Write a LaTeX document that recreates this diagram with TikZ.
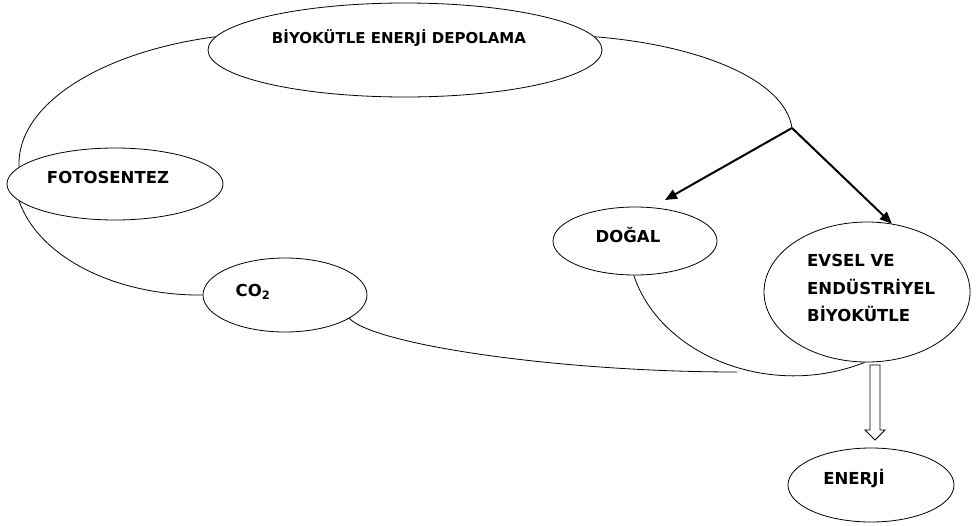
\documentclass[tikz,border=0pt]{standalone}
\usepackage{fontspec}
\setmainfont{DejaVu Sans}
\usetikzlibrary{shapes.geometric,arrows.meta}
\begin{document}
\begin{tikzpicture}[x=1pt,y=-1pt,
  oval/.style={draw=black,ellipse,inner sep=0pt,line width=0.8pt},
  lbl/.style={font=\fontsize{16.5}{20}\selectfont\bfseries,inner sep=0pt,anchor=center},
  thin/.style={draw=black,line width=0.8pt},
  thick/.style={draw=black,line width=2pt,-{Triangle[length=12pt,width=10pt]}}]
\useasboundingbox (0,0) rectangle (977,525);
\fill[white] (0,0) rectangle (977,525);
% ellipses
\node[oval,minimum width=394pt,minimum height=94pt] (bio) at (405,50) {};
\node[oval,minimum width=216pt,minimum height=72pt] (foto) at (115,184) {};
\node[oval,minimum width=164pt,minimum height=74pt] (co) at (285,295) {};
\node[oval,minimum width=164pt,minimum height=68pt] (dogal) at (635,241) {};
\node[oval,minimum width=206pt,minimum height=140pt] (evsel) at (867,292) {};
\node[oval,minimum width=166pt,minimum height=74pt] (enerji) at (871,485) {};
% texts
\node[lbl,font=\fontsize{15}{18}\selectfont\bfseries] (tbio) at (399,38) {BİYOKÜTLE ENERJİ DEPOLAMA};
\node[lbl] (tfoto) at (108,177) {FOTOSENTEZ};
\node[lbl] (tco) at (253,292) {CO\textsubscript{2}};
\node[lbl] (tdogal) at (628,235) {DOĞAL};
\node[lbl,anchor=west,align=left,font=\fontsize{16.5}{27.5}\selectfont\bfseries] (tevsel) at (807,288) {EVSEL VE\\ENDÜSTRİYEL\\BİYOKÜTLE};
\node[lbl] (tenerji) at (854,478) {ENERJİ};
% free ends
\coordinate (junc) at (792,128);
\coordinate (coend) at (737,372);
\coordinate (dtip) at (665,200);
% thin curves
\draw[thin] (bio.176) .. controls (100,52) and (16,105) .. (foto.170);
\draw[thin] (foto.190) .. controls (40,260) and (120,296) .. (co.west);
\draw[thin] (bio.4) .. controls (700,45) and (785,80) .. (junc);
\draw[thin] (co.-20) .. controls (375,345) and (560,372) .. (coend);
\draw[thin] (dogal.-92) .. controls (660,355) and (770,400) .. (evsel.-92);
% thick arrows
\draw[thick] (junc) -- (dtip);
\draw[thick] (junc) -- (evsel.70);
% hollow arrow from evsel to enerji
\draw[thin,fill=white] (870,365) -- (880,365) -- (880,430) -- (885,430) -- (875,440) -- (865,430) -- (870,430) -- cycle;
\end{tikzpicture}
\end{document}
